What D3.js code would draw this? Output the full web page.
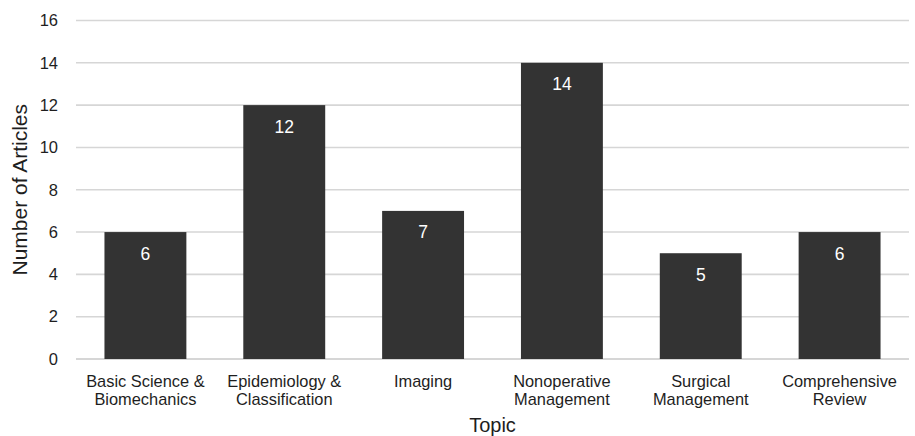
<!DOCTYPE html>
<html>
<head>
<meta charset="utf-8">
<script src="https://cdn.jsdelivr.net/npm/d3@7"></script>
<style>
  html, body { margin: 0; padding: 0; background: #fff; }
  svg { display: block; font-family: "Liberation Sans", Arial, sans-serif; }
</style>
</head>
<body>
<svg id="chart" width="915" height="436"></svg>
<script>
// Articles per topic
const topicLines = [
  ["Basic Science &", "Biomechanics"],
  ["Epidemiology &", "Classification"],
  ["Imaging"],
  ["Nonoperative", "Management"],
  ["Surgical", "Management"],
  ["Comprehensive", "Review"]
];
const topics = topicLines.map(l => l.join(" "));
const articleCounts = [6, 12, 7, 14, 5, 6];
const yTicks = [0, 2, 4, 6, 8, 10, 12, 14, 16];

const svg = d3.select("#chart");
const plot = { left: 76, right: 909, top: 20.5, bottom: 359 };

const x = d3.scaleBand()
  .domain(topics)
  .range([plot.left, plot.right])
  .paddingInner(0.41)
  .paddingOuter(0.205);

const y = d3.scaleLinear()
  .domain([0, 16])
  .range([plot.bottom, plot.top]);

// Horizontal gridlines
svg.append("g")
  .selectAll("line")
  .data(yTicks)
  .join("line")
  .attr("x1", plot.left)
  .attr("x2", plot.right)
  .attr("y1", d => y(d))
  .attr("y2", d => y(d))
  .attr("stroke", d => d === 0 ? "#c8c8c8" : "#d6d6d6")
  .attr("stroke-width", 1.6);

// Y axis tick labels
const yAxis = d3.axisLeft(y).tickValues(yTicks).tickSize(0).tickPadding(0);
const gy = svg.append("g")
  .attr("transform", `translate(${plot.left - 18},0)`)
  .call(yAxis);
gy.select(".domain").remove();
gy.selectAll("text")
  .attr("font-size", 16.5)
  .attr("fill", "#1e1e1e")
  .attr("font-family", "Liberation Sans, Arial, sans-serif");

// Bars
svg.append("g")
  .selectAll("rect")
  .data(articleCounts)
  .join("rect")
  .attr("x", (d, i) => x(topics[i]))
  .attr("width", x.bandwidth())
  .attr("y", d => y(d))
  .attr("height", d => y(0) - y(d))
  .attr("fill", "#333333");

// Value labels inside bars
svg.append("g")
  .selectAll("text")
  .data(articleCounts)
  .join("text")
  .attr("x", (d, i) => x(topics[i]) + x.bandwidth() / 2)
  .attr("y", d => y(d) + 27.5)
  .attr("text-anchor", "middle")
  .attr("font-size", 17.5)
  .attr("fill", "#ffffff")
  .text(d => d);

// Category labels
const xAxis = d3.axisBottom(x).tickSize(0).tickFormat("");
const gx = svg.append("g")
  .attr("transform", `translate(0,${plot.bottom})`)
  .call(xAxis);
gx.select(".domain").remove();

svg.append("g")
  .selectAll("text")
  .data(topicLines)
  .join("text")
  .attr("x", (d, i) => x(topics[i]) + x.bandwidth() / 2)
  .attr("y", 387)
  .attr("text-anchor", "middle")
  .attr("font-size", 16.4)
  .attr("fill", "#1e1e1e")
  .each(function(lines) {
    d3.select(this).selectAll("tspan")
      .data(lines)
      .join("tspan")
      .attr("x", d3.select(this).attr("x"))
      .attr("dy", (l, j) => j === 0 ? 0 : 18)
      .text(l => l);
  });

// Axis titles
svg.append("text")
  .attr("x", (plot.left + plot.right) / 2)
  .attr("y", 432)
  .attr("text-anchor", "middle")
  .attr("font-size", 20)
  .attr("fill", "#1e1e1e")
  .text("Topic");

svg.append("text")
  .attr("transform", `translate(27,${(plot.top + plot.bottom) / 2}) rotate(-90)`)
  .attr("text-anchor", "middle")
  .attr("font-size", 21)
  .attr("fill", "#1e1e1e")
  .text("Number of Articles");
</script>
</body>
</html>
